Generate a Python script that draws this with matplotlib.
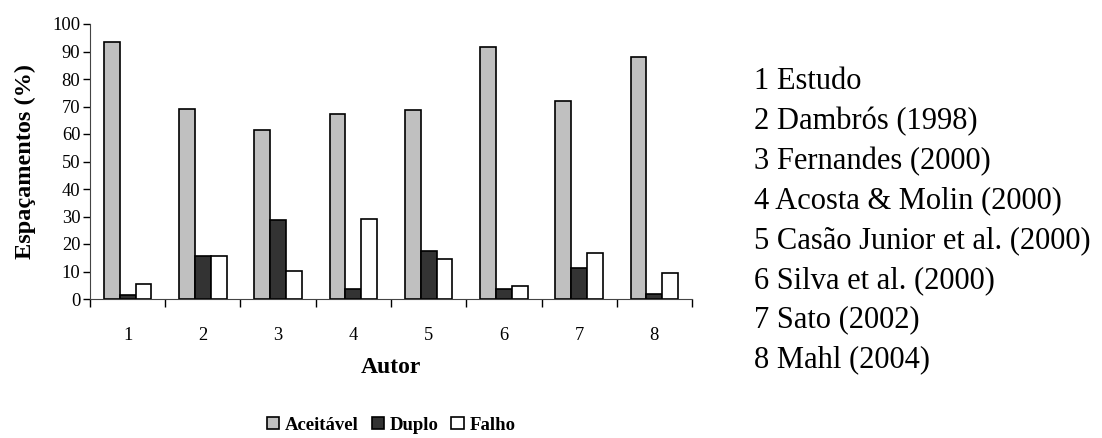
import matplotlib.pyplot as plt
import numpy as np

plt.rcParams['font.family'] = ['Liberation Serif', 'DejaVu Serif']

autores = ['1', '2', '3', '4', '5', '6', '7', '8']
aceitavel = [93.6, 69.2, 61.3, 67.4, 68.6, 91.6, 72.1, 88.1]
duplo = [1.3, 15.5, 28.7, 3.6, 17.3, 3.6, 11.4, 1.8]
falho = [5.5, 15.5, 10.2, 29.2, 14.4, 4.8, 16.7, 9.6]
nomes = ['1 Estudo', '2 Dambrós (1998)', '3 Fernandes (2000)',
         '4 Acosta & Molin (2000)', '5 Casão Junior et al. (2000)',
         '6 Silva et al. (2000)', '7 Sato (2002)', '8 Mahl (2004)']

fig = plt.figure(figsize=(11.02, 4.38), dpi=100)
ax = fig.add_axes([90/1102, 139/438, 602/1102, 275/438])

x = np.arange(len(autores))
w = 0.21
ax.bar(x - w, aceitavel, w, color='#C0C0C0', edgecolor='black', linewidth=1.2, label='Aceitável')
ax.bar(x, duplo, w, color='#333333', edgecolor='black', linewidth=1.2, label='Duplo')
ax.bar(x + w, falho, w, color='white', edgecolor='black', linewidth=1.2, label='Falho')

ax.set_xlim(-0.5, len(autores) - 0.5)
ax.set_ylim(0, 100)
ax.set_yticks(range(0, 101, 10))
ax.tick_params(axis='y', labelsize=13.3, length=5, width=1, pad=2)
ax.set_xticks(x)
ax.set_xticklabels(autores)
ax.tick_params(axis='x', which='major', length=0, labelsize=13.3, pad=20.5)
ax.set_xticks(np.arange(-0.5, len(autores)), minor=True)
ax.tick_params(axis='x', which='minor', length=6, width=1, direction='out')

for s in ['top', 'right']:
    ax.spines[s].set_visible(False)
for s in ['left', 'bottom']:
    ax.spines[s].set_color('#444444')

ax.set_ylabel('Espaçamentos (%)', fontsize=17.5, fontweight='bold', labelpad=11.5)
ax.set_xlabel('Autor', fontsize=17, fontweight='bold', labelpad=9)

leg = fig.legend(loc='center', bbox_to_anchor=(391/1102, 1 - 425/438), ncol=3,
                 frameon=False, prop={'weight': 'bold', 'size': 13.5},
                 handlelength=0.65, handleheight=0.65, handletextpad=0.3,
                 columnspacing=0.7)

for i, n in enumerate(nomes):
    fig.text(754/1102, 1 - (82 + i * 39.7)/438, n, fontsize=22, va='center', ha='left')

fig.savefig('out.png', dpi=100)
